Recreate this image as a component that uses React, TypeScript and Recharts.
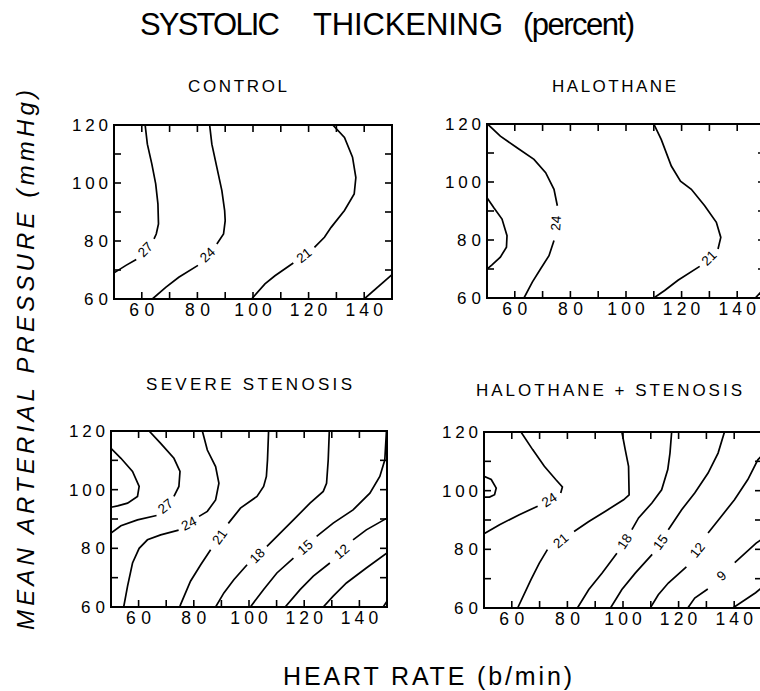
import React from 'react'
import { ScatterChart, Scatter, XAxis, YAxis, ReferenceArea } from 'recharts'

type Pt = [number, number]
interface Contour { level: string; a: Pt[]; b?: Pt[] }

const X_TICKS = [60, 70, 80, 90, 100, 110, 120, 130, 140]
const Y_TICKS = [60, 70, 80, 90, 100, 110, 120]
const X_LABELS = [60, 80, 100, 120, 140]
const Y_LABELS = [60, 80, 100, 120]

// contour lines: a = part before the level label, b = part after it
const control: Contour[] = [
  { level: '27', a: [[61.2, 120], [62.0, 113.4], [63.6, 106.6], [65.0, 99.7], [65.8, 92.8], [66.0, 85.9], [65.2, 82.4], [64.4, 80.7]], b: [[58.0, 73.6], [54.3, 71.6], [50, 69.0]] },
  { level: '24', a: [[84.4, 120], [85.2, 113.4], [87.0, 105.4], [88.8, 97.4], [89.8, 90.5], [90.0, 87.0], [89.4, 82.4], [87.0, 79.0]], b: [[80.2, 71.6], [73.3, 67.5], [68.6, 64.0], [63.8, 60]] },
  { level: '21', a: [[128.7, 120], [132.9, 115.7], [135.8, 108.9], [137.0, 101.9], [136.4, 96.2], [132.9, 90.5], [128.1, 84.7], [125.7, 81.3], [122.1, 77.8]], b: [[114.5, 72.4], [107.9, 68.0], [104.3, 65.2], [99.5, 60]] },
  { level: '', a: [[140, 60], [150, 68.4]] },
]

const halothane: Contour[] = [
  { level: '', a: [[50, 94.6], [52.4, 91.2], [55.4, 87.2], [57.2, 81.5], [57.0, 77.5], [54.8, 74.1], [51.8, 71.4], [50, 70]] },
  { level: '24', a: [[50.2, 120], [54.8, 115.8], [60.8, 111.8], [66.9, 107.8], [71.1, 103.2], [74.1, 97.5], [75.3, 91.8]], b: [[74.1, 79.8], [72.3, 74.6], [69.3, 70.1], [66.3, 65.5], [63.3, 60]] },
  { level: '21', a: [[110, 120], [112.7, 114.6], [116.3, 105.5], [119.6, 100.3], [123.5, 97.5], [128.3, 91.8], [132.5, 86.1], [134.1, 80.9], [133.1, 76.9]], b: [[126.5, 70.9], [118.7, 66.1], [113.9, 62.6], [110, 60]] },
  { level: '', a: [[146.5, 60], [150, 63.5]] },
]

const stenosis: Contour[] = [
  { level: '', a: [[50, 114.1], [53.6, 110.7], [57.8, 106.2], [60.2, 101.1], [59.6, 97.7], [56.0, 95.4], [52.4, 94.5], [50, 94.0]] },
  { level: '27', a: [[63.8, 120], [68.0, 115.8], [72.8, 110.7], [75.0, 106.2], [74.6, 101.1], [72.8, 97.7]], b: [[66.5, 91.2], [59.6, 89.7], [53.6, 87.7], [50, 85.2]] },
  { level: '24', a: [[83.1, 120], [84.9, 113.5], [87.9, 107.9], [89.1, 102.2], [87.9, 96.5], [84.9, 92.6], [81.9, 90.9]], b: [[74.5, 86.2], [68.0, 84.6], [63.2, 82.9], [60.2, 80.0], [57.8, 75.0], [56.0, 67.1], [54.6, 60]] },
  { level: '21', a: [[107.1, 120], [106.7, 110.1], [106.3, 104.5], [105.3, 101.1], [102.9, 97.7], [96.9, 93.7], [92.5, 88.5]], b: [[86.1, 79.5], [82.5, 74.4], [78.8, 68.8], [75.2, 60.8], [74.9, 60]] },
  { level: '18', a: [[129.1, 120], [128.7, 110.1], [128.1, 102.2], [126.9, 99.4], [122.1, 95.4], [116.1, 89.7], [111.3, 85.2], [106.5, 80.7]], b: [[99.3, 74.4], [94.5, 69.3], [90.9, 64.8], [87.9, 60]] },
  { level: '15', a: [[149.8, 120], [149.2, 110.1], [147.4, 104.5], [143.8, 98.8], [137.7, 93.1], [130.5, 88.6], [124.5, 84.1]], b: [[116.1, 76.7], [110.1, 71.6], [105.3, 66.0], [100.5, 60]] },
  { level: '12', a: [[150, 90.3], [142.5, 86.3], [137.7, 82.9]], b: [[129.3, 75.0], [123.3, 70.5], [118.5, 65.9], [113.1, 60]] },
  { level: '', a: [[150, 78.4], [142.5, 73.3], [135.3, 68.2], [130.5, 63.7], [126.9, 60]] },
  { level: '', a: [[148.6, 60], [150, 62]] },
]

const haloStenosis: Contour[] = [
  { level: '', a: [[50, 104.9], [52.6, 103.8], [54.4, 100.9], [53.8, 98.6], [52.0, 97.8], [50, 97.8]] },
  { level: '24', a: [[63.3, 120], [67.5, 114.0], [71.7, 108.3], [75.8, 103.8], [78.2, 101.3], [77.6, 99.2]], b: [[69.3, 94.7], [62.7, 91.8], [55.6, 88.4], [50, 85.3]] },
  { level: '21', a: [[99.6, 120], [100.8, 114.0], [102.0, 108.3], [102.2, 98.6], [100.2, 96.9], [93.7, 93.0], [87.7, 89.5], [82.4, 86.1]], b: [[72.8, 79.9], [69.9, 75.3], [66.9, 69.7], [62.1, 60]] },
  { level: '18', a: [[117.5, 120], [116.9, 112.8], [116.1, 107.2], [113.9, 100.3], [110.4, 95.8], [105.6, 90.7], [103.2, 86.7]], b: [[97.8, 78.7], [92.5, 71.9], [87.7, 66.3], [83.6, 60]] },
  { level: '15', a: [[136.5, 120], [134.2, 112.8], [130.6, 106.0], [125.8, 99.2], [121.1, 93.5], [116.3, 86.7]], b: [[110.5, 78.3], [104.4, 71.9], [99.6, 66.3], [95.5, 60]] },
  { level: '12', a: [[150, 112], [148.5, 110.5], [144.9, 103.8], [140.1, 96.9], [135.4, 91.3], [130.6, 85.6]], b: [[122.8, 74.0], [116.3, 68.5], [112.7, 64.5], [109.8, 60]] },
  { level: '9', a: [[150, 83.5], [147.9, 82.1], [140.2, 75.5]], b: [[130.5, 66.5], [125.8, 63.4], [123.3, 60]] },
  { level: '', a: [[139.5, 60], [147.7, 65.2], [150, 67]] },
]

const PANEL_TITLES = ['CONTROL', 'HALOTHANE', 'SEVERE STENOSIS', 'HALOTHANE + STENOSIS']
const PANEL_DATA = [control, halothane, stenosis, haloStenosis]

// plot area of each panel on the page, and where its title sits
const LAYOUT = [
  { left: 114, top: 125, w: 278, h: 174, tx: 188, tw: 99, ty: 92 },
  { left: 487, top: 124, w: 278, h: 174, tx: 552, tw: 124, ty: 92 },
  { left: 111, top: 431, w: 276, h: 176, tx: 146, tw: 206, ty: 390 },
  { left: 484, top: 432, w: 278, h: 176, tx: 476, tw: 266, ty: 396 },
]

const FONT = '"Liberation Sans", Arial, sans-serif'
const ML = 50, MR = 12, MT = 12, MB = 28

function XTick(props: any) {
  const { x, y, payload, h } = props
  const v = payload.value
  return (
    <g>
      <line x1={x} y1={y} x2={x} y2={y - 7} stroke="#000" strokeWidth={1.6} />
      <line x1={x} y1={y - h} x2={x} y2={y - h + 7} stroke="#000" strokeWidth={1.6} />
      {X_LABELS.includes(v) && (
        <text x={x} y={y + 17} textAnchor="middle" fontSize={17.5} fontFamily={FONT} fill="#000"
          textLength={String(v).length * 12.5} lengthAdjust="spacing">{v}</text>
      )}
    </g>
  )
}

function YTick(props: any) {
  const { x, y, payload, w } = props
  const v = payload.value
  const inner = v > 60 && v < 120
  return (
    <g>
      {inner && <line x1={x} y1={y} x2={x + 7} y2={y} stroke="#000" strokeWidth={1.6} />}
      {inner && <line x1={x + w} y1={y} x2={x + w - 7} y2={y} stroke="#000" strokeWidth={1.6} />}
      {Y_LABELS.includes(v) && (
        <text x={x - 6} y={y + 6} textAnchor="end" fontSize={17} fontFamily={FONT} fill="#000"
          textLength={String(v).length * 12} lengthAdjust="spacing">{v}</text>
      )}
    </g>
  )
}

function LevelLabel(props: any) {
  const { cx, cy, payload } = props
  if (cx == null || cy == null) return null
  return (
    <text x={cx} y={cy} transform={`rotate(${payload.ang} ${cx} ${cy})`} textAnchor="middle"
      dy="0.36em" fontSize={13.5} fontFamily={FONT} fill="#000">{payload.text}</text>
  )
}

function Panel({ contours, left, top, w, h }: { contours: Contour[]; left: number; top: number; w: number; h: number }) {
  const kx = w / 100
  const ky = h / 60
  const segs: Pt[][] = []
  const labels: { x: number; y: number; text: string; ang: number }[] = []
  contours.forEach((c) => {
    segs.push(c.a)
    if (c.b && c.level) {
      segs.push(c.b)
      const p = c.a[c.a.length - 1]
      const q = c.b[0]
      const p0 = c.a[Math.max(0, c.a.length - 2)]
      const q1 = c.b[Math.min(1, c.b.length - 1)]
      let ang = Math.atan2(-(q1[1] - p0[1]) * ky, (q1[0] - p0[0]) * kx) * 180 / Math.PI
      if (ang > 90) ang -= 180
      if (ang < -90) ang += 180
      labels.push({ x: (p[0] + q[0]) / 2, y: (p[1] + q[1]) / 2, text: c.level, ang })
    }
  })
  return (
    <div style={{ position: 'absolute', left: left - ML - 1, top: top - MT }}>
      <ScatterChart width={w + ML + MR + 1} height={h + MT + MB + 1} margin={{ top: MT, right: MR, bottom: MB, left: ML }}>
        <XAxis type="number" dataKey="x" domain={[50, 150]} ticks={X_TICKS} interval={0} allowDataOverflow
          height={1} tickSize={0} tickMargin={0} axisLine={false} tickLine={false}
          tick={(p: any) => <XTick {...p} h={h} />} />
        <YAxis type="number" dataKey="y" domain={[60, 120]} ticks={Y_TICKS} interval={0} allowDataOverflow
          width={1} tickSize={0} tickMargin={0} axisLine={false} tickLine={false}
          tick={(p: any) => <YTick {...p} w={w} />} />
        <ReferenceArea x1={50} x2={150} y1={60} y2={120} fill="#fff" fillOpacity={0} stroke="#000" strokeWidth={2} />
        {segs.map((s, i) => (
          <Scatter key={i} data={s.map(([x, y]) => ({ x, y }))} line={{ stroke: '#000', strokeWidth: 1.7 }}
            shape={() => <g />} isAnimationActive={false} />
        ))}
        <Scatter data={labels} shape={(p: any) => <LevelLabel {...p} />} isAnimationActive={false} />
      </ScatterChart>
    </div>
  )
}

export default function App() {
  return (
    <div style={{ position: 'absolute', left: 0, top: 0, width: 760, height: 691, overflow: 'hidden', background: '#fff' }}>
      {PANEL_DATA.map((c, i) => (
        <Panel key={i} contours={c} left={LAYOUT[i].left} top={LAYOUT[i].top} w={LAYOUT[i].w} h={LAYOUT[i].h} />
      ))}
      <svg width={760} height={691} style={{ position: 'absolute', left: 0, top: 0, pointerEvents: 'none' }}>
        <g fontFamily={FONT} fill="#000">
          <text x={140} y={35} fontSize={31} textLength={140} lengthAdjust="spacing">SYSTOLIC</text>
          <text x={313} y={35} fontSize={31} textLength={190} lengthAdjust="spacing">THICKENING</text>
          <text x={523} y={35} fontSize={31} textLength={112} lengthAdjust="spacing">(percent)</text>
          {PANEL_TITLES.map((t, i) => (
            <text key={t} x={LAYOUT[i].tx} y={LAYOUT[i].ty} fontSize={17} textLength={LAYOUT[i].tw} lengthAdjust="spacing">{t}</text>
          ))}
          <text x={283} y={685} fontSize={25} textLength={289} lengthAdjust="spacing">HEART RATE (b/min)</text>
          <text x={0} y={0} fontSize={24} fontStyle="italic" textAnchor="middle" textLength={540} lengthAdjust="spacing"
            transform="translate(34 360) rotate(-90)">MEAN ARTERIAL PRESSURE (mmHg)</text>
        </g>
      </svg>
    </div>
  )
}
